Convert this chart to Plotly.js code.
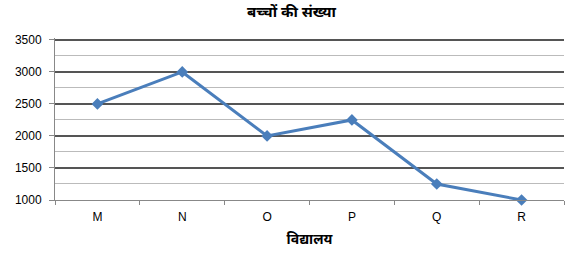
<!DOCTYPE html>
<html><head><meta charset="utf-8">
<script src="https://cdn.plot.ly/plotly-3.0.1.min.js"></script>
<style>html,body{margin:0;padding:0;background:#fff}#c{width:583px;height:257px}</style>
</head><body><div id="c"></div>
<script>
const schools = ['M','N','O','P','Q','R'];
const students = [2500, 3000, 2000, 2250, 1250, 1000];
const yTicks = [1000,1500,2000,2500,3000,3500];
const chartTitle = 'बच्चों की संख्या';
const xTitle = 'विद्यालय';

Plotly.newPlot('c', [{
  x: schools, y: students, type: 'scatter', mode: 'lines+markers',
  line: {color: '#4a7ebb', width: 3},
  marker: {symbol: 'diamond', size: 9, color: '#4a7ebb'},
  hoverinfo: 'none', cliponaxis: false
}], {
  width: 583, height: 257,
  margin: {l: 55, r: 19, t: 38, b: 57},
  paper_bgcolor: '#fff', plot_bgcolor: '#fff',
  font: {family: 'Liberation Sans, Arial, sans-serif', size: 12, color: '#000'},
  title: {text: '<b>' + chartTitle + '</b>', x: 0.5, xanchor: 'center', y: 0.955, yanchor: 'middle', font: {size: 15, family: 'Noto Sans, sans-serif'}},
  xaxis: {
    type: 'category', tickson: 'boundaries', ticks: 'outside', ticklen: 4, tickcolor: '#888',
    showline: true, linecolor: '#888', linewidth: 1, showgrid: false, zeroline: false,
    range: [-0.5, 5.5], fixedrange: true, ticklabelstandoff: 6,
    title: {text: '<b>' + xTitle + '</b>', standoff: 10, font: {size: 14, family: 'Noto Sans, sans-serif'}}
  },
  yaxis: {
    range: [1000, 3530], tickvals: yTicks, ticktext: yTicks.map(String),
    ticks: 'outside', ticklen: 5, tickcolor: '#888', ticklabelstandoff: 5,
    showline: true, linecolor: '#888', linewidth: 1,
    showgrid: true, gridcolor: '#555', gridwidth: 2, zeroline: false, fixedrange: true,
    minor: {dtick: 250, showgrid: true, gridcolor: '#bbb', gridwidth: 1, ticks: ''}
  },
  showlegend: false
}, {displayModeBar: false, staticPlot: true});
</script></body></html>
